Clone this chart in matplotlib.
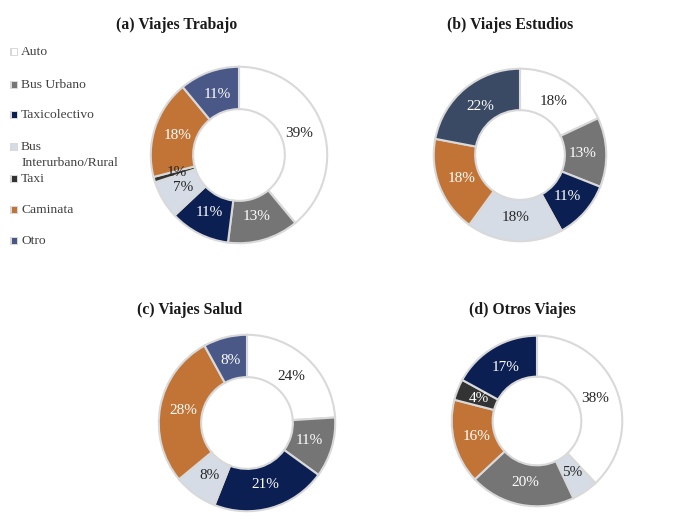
import matplotlib
matplotlib.use("Agg")
import matplotlib.pyplot as plt
from matplotlib.patches import Rectangle

plt.rcParams['font.family'] = ['Liberation Serif', 'DejaVu Serif']

W, H = 679, 528

categories = ["Auto", "Bus Urbano", "Taxicolectivo", "Bus\nInterurbano/Rural",
              "Taxi", "Caminata", "Otro"]
cat_colors = {"Auto": "#FFFFFF", "Bus Urbano": "#757575", "Taxicolectivo": "#0C1F52",
              "Bus\nInterurbano/Rural": "#D5DCE6", "Taxi": "#333333",
              "Caminata": "#C17435", "Otro": "#4A5888"}
dark_text = {"Auto", "Bus\nInterurbano/Rural"}

titles = ["(a) Viajes Trabajo", "(b) Viajes Estudios", "(c) Viajes Salud", "(d) Otros Viajes"]

order_a = ["Auto", "Bus Urbano", "Taxicolectivo", "Bus\nInterurbano/Rural", "Taxi", "Caminata", "Otro"]
values_a = [39, 13, 11, 7, 1, 18, 11]
order_b = ["Auto", "Bus Urbano", "Taxicolectivo", "Bus\nInterurbano/Rural", "Caminata", "Otro"]
values_b = [18, 13, 11, 18, 18, 22]
order_c = ["Auto", "Bus Urbano", "Taxicolectivo", "Bus\nInterurbano/Rural", "Caminata", "Otro"]
values_c = [24, 11, 21, 8, 28, 8]
order_d = ["Auto", "Bus\nInterurbano/Rural", "Bus Urbano", "Caminata", "Taxi", "Taxicolectivo"]
values_d = [38, 5, 20, 16, 4, 17]

panels = [(order_a, values_a), (order_b, values_b), (order_c, values_c), (order_d, values_d)]
# centre (px), radius (px)
geom = [((239, 155), 90), ((520, 155), 88), ((247, 423), 90), ((537, 421), 87)]
title_pos = [(177, 25), (510, 25), (190, 310), (522, 310)]
panel_color_override = [{}, {"Otro": "#3B4A64"}, {}, {}]

fig = plt.figure(figsize=(W / 100, H / 100), dpi=100)
fig.patch.set_facecolor("white")

for i, ((order, vals), ((cx, cy), r)) in enumerate(zip(panels, geom)):
    ax = fig.add_axes([(cx - r) / W, 1 - (cy + r) / H, 2 * r / W, 2 * r / H])
    cols = [panel_color_override[i].get(c, cat_colors[c]) for c in order]
    wedges, texts, autotexts = ax.pie(
        vals, colors=cols, startangle=90, counterclock=False, radius=1.0,
        autopct="%.0f%%", pctdistance=0.73,
        wedgeprops=dict(width=0.48, edgecolor="#D9D9D9", linewidth=1.5),
        textprops=dict(fontsize=11))
    for c, t in zip(order, autotexts):
        t.set_color("#262626" if c in dark_text else "white")
    if i == 0:
        # small Taxi label overlaps the neighbouring slices
        autotexts[4].set_color("#262626")
    ax.set_xlim(-1.02, 1.02)
    ax.set_ylim(-1.02, 1.02)
    ax.axis("off")
    tx, ty = title_pos[i]
    fig.text(tx / W, 1 - ty / H, titles[i], ha="center", va="center",
             fontsize=11.3, fontweight="bold", color="#1a1a1a")

# legend
leg_y = [52, 85, 115, 147, 179, 210, 241]
for c, y in zip(categories, leg_y):
    s = 8
    fig.patches.append(Rectangle((10 / W, 1 - (y + s / 2) / H), s / W, s / H,
                                 transform=fig.transFigure, facecolor="#D9D9D9",
                                 edgecolor="none"))
    s2 = 5
    fig.patches.append(Rectangle(((10 + 1.5) / W, 1 - (y + s2 / 2) / H), s2 / W, s2 / H,
                                 transform=fig.transFigure, facecolor=cat_colors[c],
                                 edgecolor="none"))
    lines = c.split("\n")
    for k, ln in enumerate(lines):
        fig.text(21 / W, 1 - (y + 16 * k) / H, ln, ha="left", va="center",
                 fontsize=9.7, color="#404040")

fig.savefig("out.png", dpi=100, facecolor="white")
